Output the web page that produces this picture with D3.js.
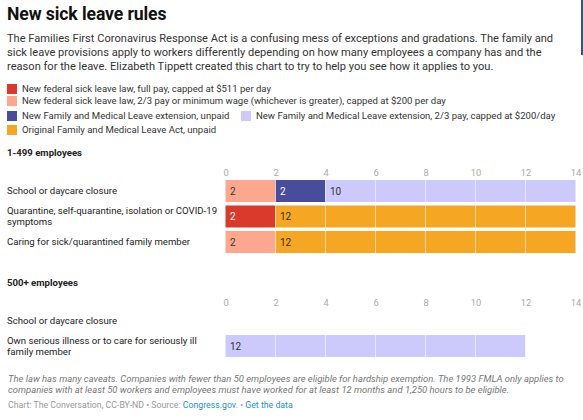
<!DOCTYPE html>
<html>
<head>
<meta charset="utf-8">
<script src="https://cdn.jsdelivr.net/npm/d3@7"></script>
<style>
  html, body { margin: 0; padding: 0; background: #fff; }
  svg { display: block; font-family: Roboto, "Noto Sans", sans-serif; }
</style>
</head>
<body>
<svg id="chart" width="583" height="420"></svg>
<script>
// ---------- data ----------
const title = "New sick leave rules";
const descriptionLines = [
  "The Families First Coronavirus Response Act is a confusing mess of exceptions and gradations. The family and",
  "sick leave provisions apply to workers differently depending on how many employees a company has and the",
  "reason for the leave. Elizabeth Tippett created this chart to try to help you see how it applies to you."
];
const seriesKeys = ["sickFull", "sickTwoThirds", "fmlaUnpaid", "fmlaTwoThirds", "fmlaOriginal"];
const seriesLabels = [
  "New federal sick leave law, full pay, capped at $511 per day",
  "New federal sick leave law, 2/3 pay or minimum wage (whichever is greater), capped at $200 per day",
  "New Family and Medical Leave extension, unpaid",
  "New Family and Medical Leave extension, 2/3 pay, capped at $200/day",
  "Original Family and Medical Leave Act, unpaid"
];
const seriesColors = ["#d93a2b", "#fca78e", "#484c9c", "#cccafd", "#f5a623"];
const seriesTextColors = ["#ffffff", "#333333", "#ffffff", "#333333", "#333333"];

const group1 = "1-499 employees";
const categories1 = [
  "School or daycare closure",
  "Quarantine, self-quarantine, isolation or COVID-19 symptoms",
  "Caring for sick/quarantined family member"
];
const sickFull1      = [0, 2, 0];
const sickTwoThirds1 = [2, 0, 2];
const fmlaUnpaid1    = [2, 0, 0];
const fmlaTwoThirds1 = [10, 0, 0];
const fmlaOriginal1  = [0, 12, 12];

const group2 = "500+ employees";
const categories2 = [
  "School or daycare closure",
  "Own serious illness or to care for seriously ill family member"
];
const sickFull2      = [0, 0];
const sickTwoThirds2 = [0, 0];
const fmlaUnpaid2    = [0, 0];
const fmlaTwoThirds2 = [0, 12];
const fmlaOriginal2  = [0, 0];

const tickValues = [0, 2, 4, 6, 8, 10, 12, 14];

const notesLines = [
  "The law has many caveats. Companies with fewer than 50 employees are eligible for hardship exemption. The 1993 FMLA only applies to",
  "companies with at least 50 workers and employees must have worked for at least 12 months and 1,250 hours to be eligible."
];

// ---------- drawing ----------
const svg = d3.select("#chart");

// scrollbar-like edge mark
svg.append("rect").attr("x", 581).attr("y", 0).attr("width", 2).attr("height", 55).attr("fill", "#3b5378");

svg.append("text").attr("x", 7).attr("y", 20)
  .attr("font-size", 17.6).attr("letter-spacing", -0.1).attr("font-weight", 700).attr("fill", "#111").text(title);

svg.append("g").selectAll("text").data(descriptionLines).join("text")
  .attr("x", 7).attr("y", (d, i) => 42 + i * 14)
  .attr("font-size", 11.1).attr("fill", "#333").text(d => d);

// legend
const legendItems = [
  { i: 0, x: 7, y: 84 },
  { i: 1, x: 7, y: 96 },
  { i: 2, x: 7, y: 111 },
  { i: 3, x: 241, y: 111 },
  { i: 4, x: 7, y: 125 }
];
const lg = svg.append("g").selectAll("g").data(legendItems).join("g")
  .attr("transform", d => `translate(${d.x},${d.y})`);
lg.append("rect").attr("width", 10).attr("height", 10).attr("fill", d => seriesColors[d.i]);
lg.append("text").attr("x", 15).attr("y", 8.3).attr("font-size", 9.55).attr("fill", "#333")
  .text(d => seriesLabels[d.i]);

const x = d3.scaleLinear().domain([0, 14]).range([225.5, 575.5]);

function wrapText(textSel, width) {
  textSel.each(function () {
    const t = d3.select(this);
    const words = t.text().split(/\s+/);
    t.text(null);
    let line = [];
    let lines = [];
    const tmp = t.append("tspan");
    words.forEach(w => {
      line.push(w);
      tmp.text(line.join(" "));
      if (tmp.node().getComputedTextLength() > width && line.length > 1) {
        line.pop();
        lines.push(line.join(" "));
        line = [w];
      }
    });
    lines.push(line.join(" "));
    tmp.remove();
    const lh = 11;
    const y0 = +t.attr("data-cy") + 3.4 - (lines.length - 1) * lh / 2;
    lines.forEach((l, k) => {
      t.append("tspan").attr("x", t.attr("x")).attr("y", y0 + k * lh).text(l);
    });
  });
}

function drawPanel(cfg) {
  const { headerY, axisY, rangeTop, rangeBottom, categories, series } = cfg;
  const g = svg.append("g");
  g.append("text").attr("x", 7).attr("y", headerY).attr("font-size", 9.6)
    .attr("font-weight", 700).attr("fill", "#222").text(cfg.header);

  const y = d3.scaleBand().domain(categories).range([rangeTop, rangeBottom])
    .paddingInner(0.137).paddingOuter(0.0685);

  // axis
  const ax = g.append("g").attr("transform", `translate(0,${axisY})`)
    .call(d3.axisTop(x).tickValues(tickValues).tickSize(0).tickPadding(0));
  ax.select(".domain").remove();
  ax.selectAll("text").attr("dy", 0).attr("font-size", 9.3).attr("fill", "#aaa")
    .attr("font-family", "Roboto, sans-serif");

  // stacked data
  const rows = categories.map((c, i) => {
    const o = { category: c };
    seriesKeys.forEach((k, j) => { o[k] = series[j][i]; });
    return o;
  });
  const stacked = d3.stack().keys(seriesKeys)(rows);

  const layers = g.append("g").selectAll("g").data(stacked).join("g")
    .attr("fill", (d, i) => seriesColors[i]);
  layers.selectAll("rect").data(d => d.filter(s => s[1] - s[0] > 0)).join("rect")
    .attr("x", s => x(s[0])).attr("width", s => x(s[1]) - x(s[0]))
    .attr("y", s => y(s.data.category)).attr("height", y.bandwidth());

  // gridlines over bars
  const barsBottom = y(categories[categories.length - 1]) + y.bandwidth();
  g.append("g").selectAll("line").data(tickValues.filter(t => t > 0 && t < 14)).join("line")
    .attr("x1", t => x(t)).attr("x2", t => x(t))
    .attr("y1", y(categories[0])).attr("y2", barsBottom)
    .attr("stroke", "#fff").attr("stroke-opacity", 0.55).attr("stroke-width", 1);

  // value labels
  stacked.forEach((layer, i) => {
    g.append("g").selectAll("text").data(layer.filter(s => s[1] - s[0] > 0)).join("text")
      .attr("x", s => x(s[0]) + 4.5)
      .attr("y", s => y(s.data.category) + y.bandwidth() / 2 + 3.6)
      .attr("font-size", 10).attr("fill", seriesTextColors[i])
      .text(s => s[1] - s[0]);
  });

  // row labels
  g.append("g").selectAll("text").data(categories).join("text")
    .attr("x", 7).attr("data-cy", c => y(c) + y.bandwidth() / 2)
    .attr("font-size", 9.6).attr("fill", "#222").text(c => c)
    .call(wrapText, 214);
}

drawPanel({
  header: group1, headerY: 156, axisY: 175.5, rangeTop: 178.25, rangeBottom: 254.75,
  categories: categories1,
  series: [sickFull1, sickTwoThirds1, fmlaUnpaid1, fmlaTwoThirds1, fmlaOriginal1]
});
drawPanel({
  header: group2, headerY: 286, axisY: 305.5, rangeTop: 307.75, rangeBottom: 358.75,
  categories: categories2,
  series: [sickFull2, sickTwoThirds2, fmlaUnpaid2, fmlaTwoThirds2, fmlaOriginal2]
});

// notes
svg.append("g").selectAll("text").data(notesLines).join("text")
  .attr("x", 8).attr("y", (d, i) => 382 + i * 11)
  .attr("font-size", 9.45).attr("font-style", "italic").attr("fill", "#777").text(d => d);

const credit = svg.append("text").attr("x", 8).attr("y", 408).attr("font-size", 8.75).attr("fill", "#999");
credit.append("tspan").text("Chart: The Conversation, CC-BY-ND • Source: ");
credit.append("tspan").attr("fill", "#1d91d0").text("Congress.gov.");
credit.append("tspan").text(" • ");
credit.append("tspan").attr("fill", "#1d91d0").text("Get the data");
</script>
</body>
</html>
